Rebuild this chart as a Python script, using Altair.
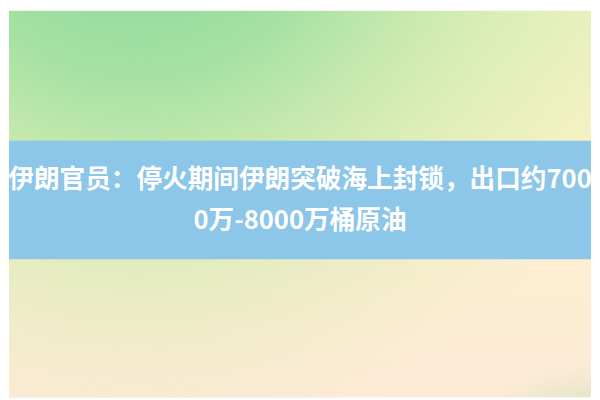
import altair as alt
import pandas as pd

# Headline text (two wrapped lines as in the reference)
lines = ["伊朗官员：停火期间伊朗突破海上封锁，出口约700", "0万-8000万桶原油"]
headline = "\n".join(lines)

base_stops = [("#eef2c0", 0.0), ("#f8f2c6", 0.35), ("#fdeed2", 0.65), ("#fdead6", 1.0)]
green_stops = [("rgba(128,212,156,1)", 0.0), ("rgba(152,222,158,0.85)", 0.35),
               ("rgba(190,232,165,0.4)", 0.7), ("rgba(215,238,178,0)", 1.0)]
corner_stops = [("rgba(100,190,150,1)", 0.0), ("rgba(140,205,160,0.55)", 0.5),
                ("rgba(200,225,180,0)", 1.0)]
band_color = "#8cc6e8"

df = pd.DataFrame({"text": [headline]})
base = alt.Chart(df)

full = dict(
    x=alt.value(0), x2=alt.value({"expr": "width"}),
    y=alt.value(0), y2=alt.value({"expr": "height"}),
)

bg = base.mark_rect(
    fill=alt.Gradient(gradient="linear", x1=0, y1=0, x2=0, y2=1,
                      stops=[alt.GradientStop(color=c, offset=o) for c, o in base_stops])
).encode(**full)

green = base.mark_rect(
    fill=alt.Gradient(gradient="radial", x1=0.22, y1=-0.05, r1=0, x2=0.22, y2=-0.05, r2=0.95,
                      stops=[alt.GradientStop(color=c, offset=o) for c, o in green_stops])
).encode(**full)

corner = base.mark_rect(
    fill=alt.Gradient(gradient="radial", x1=1.0, y1=1.02, r1=0, x2=1.0, y2=1.02, r2=0.25,
                      stops=[alt.GradientStop(color=c, offset=o) for c, o in corner_stops])
).encode(**full)

band = base.mark_rect(fill=band_color).encode(
    x=alt.value(0), x2=alt.value({"expr": "width"}),
    y=alt.value({"expr": "height*0.3367"}), y2=alt.value({"expr": "height*0.6429"}),
)

text = base.mark_text(
    font="Noto Sans CJK SC", fontWeight="bold", fontSize=26, color="white",
    align="center", baseline="middle", lineBreak="\n", lineHeight=41,
).encode(
    x=alt.value({"expr": "width/2"}),
    y=alt.value({"expr": "height*0.4388"}),
    text="text:N",
)

chart = alt.layer(bg, green, corner, band, text).properties(
    width=592, height=392,
    autosize=alt.AutoSizeParams(type="fit", contains="padding"),
    padding=0,
).configure_view(stroke=None)

chart.save("out.html", embed_options={"renderer": "svg", "actions": False})
